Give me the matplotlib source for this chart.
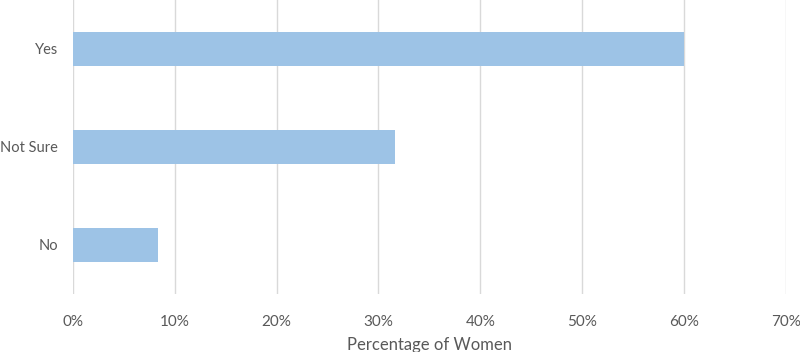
import matplotlib
matplotlib.use("Agg")
import matplotlib.pyplot as plt
from matplotlib.ticker import PercentFormatter

# Data
categories = ["No", "Not Sure", "Yes"]
values = [8.4, 31.6, 60.0]
xticks = [0, 10, 20, 30, 40, 50, 60, 70]

text_color = "#595959"
plt.rcParams['font.family'] = ['Lato', 'DejaVu Sans']

fig = plt.figure(figsize=(8, 3.52), dpi=100)
ax = fig.add_axes([0.091, 0.165, 0.8915, 0.835])

ax.barh(categories, values, height=0.35, color="#9DC3E6", zorder=3)

ax.set_xlim(0, 70)
ax.set_ylim(-0.5, 2.5)
ax.set_xticks(xticks)
ax.xaxis.set_major_formatter(PercentFormatter(decimals=0))
ax.grid(axis="x", color="#D9D9D9", linewidth=1, zorder=0)

for s in ax.spines.values():
    s.set_visible(False)
ax.tick_params(length=0, labelcolor=text_color)
ax.tick_params(axis="x", pad=15, labelsize=11)
ax.tick_params(axis="y", pad=10.5, labelsize=10.5)

ax.set_xlabel("Percentage of Women", fontsize=12, color=text_color, labelpad=6)

fig.savefig("out.png", dpi=100)
